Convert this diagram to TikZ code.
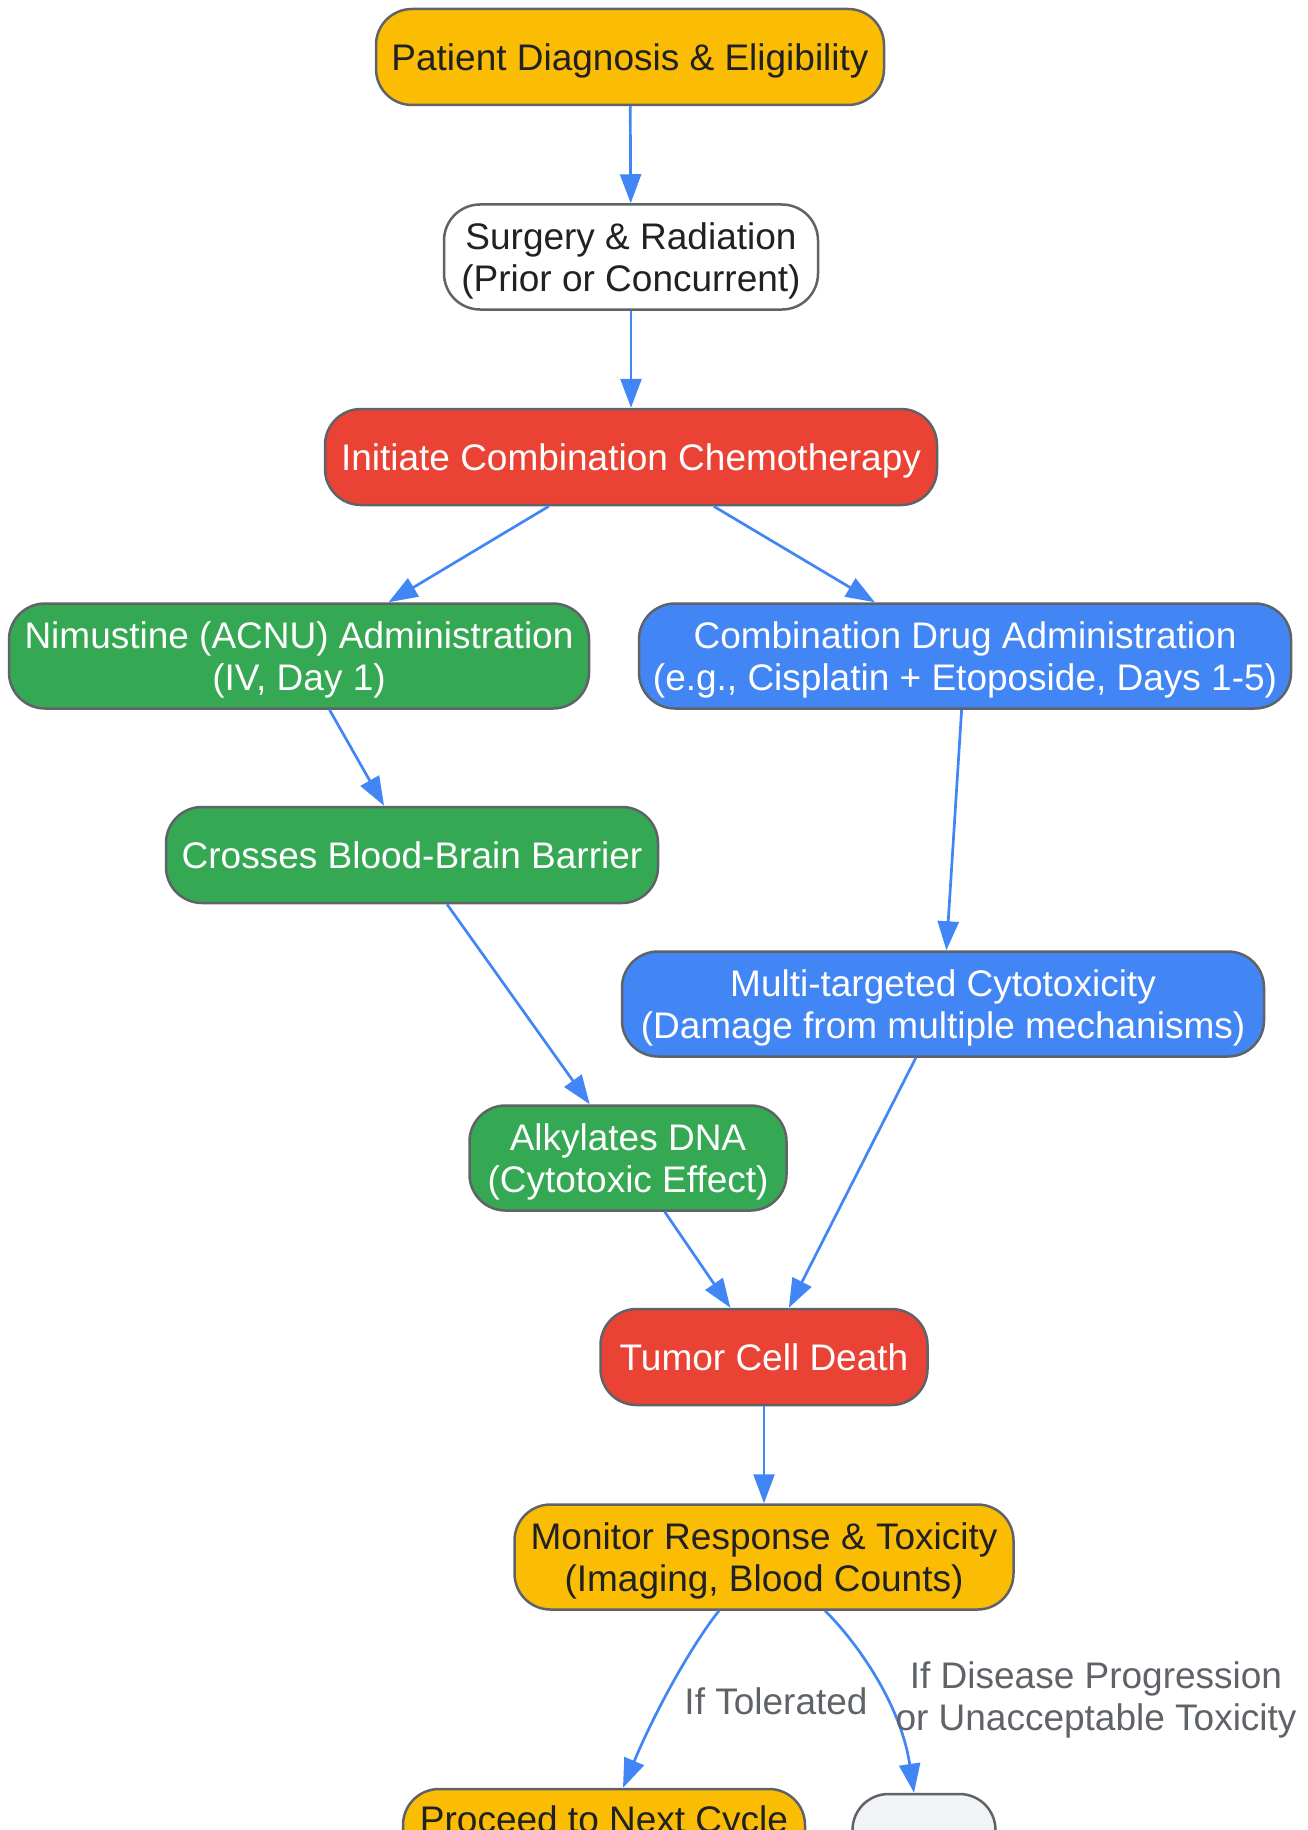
\documentclass[tikz,border=0pt]{standalone}
\usepackage{fontspec}
\setmainfont{Liberation Sans}
\usetikzlibrary{arrows.meta}
\definecolor{gyellow}{HTML}{FBBC04}
\definecolor{gred}{HTML}{EA4335}
\definecolor{ggreen}{HTML}{34A853}
\definecolor{gblue}{HTML}{4285F4}
\definecolor{glight}{HTML}{F1F3F4}
\definecolor{gborder}{HTML}{5F6368}
\definecolor{gtext}{HTML}{202124}
\begin{document}
\begin{tikzpicture}[x=1pt,y=-1pt,
  box/.style={draw=gborder, line width=2.5pt, rounded corners=36pt, align=center, inner sep=0pt, text depth=-1.5pt, font=\fontsize{37}{42}\selectfont},
  dark/.style={box, text=gtext},
  light/.style={box, text=white},
  edge/.style={draw=gblue, line width=2.7pt, -{Triangle[length=29pt,width=21pt]}},
  lbl/.style={text=gborder, align=center, font=\fontsize{37}{42}\selectfont, inner sep=0pt}]
\useasboundingbox (0,0) rectangle (1308,1830);
\clip (0,0) rectangle (1308,1830);
\node[dark, fill=gyellow, minimum width=508pt, minimum height=96pt] (n1) at (630,57) {Patient Diagnosis \& Eligibility};
\node[dark, fill=white, minimum width=374pt, minimum height=105pt] (n2) at (631,257) {Surgery \& Radiation\\(Prior or Concurrent)};
\node[light, fill=gred, minimum width=612pt, minimum height=96pt] (n3) at (631,457) {Initiate Combination Chemotherapy};
\node[light, fill=ggreen, minimum width=580pt, minimum height=105pt] (n4) at (299,656) {Nimustine (ACNU) Administration\\(IV, Day 1)};
\node[light, fill=gblue, minimum width=652pt, minimum height=105pt] (n5) at (965,656) {Combination Drug Administration\\(e.g., Cisplatin + Etoposide, Days 1-5)};
\node[light, fill=ggreen, minimum width=492pt, minimum height=96pt] (n6) at (412,855) {Crosses Blood-Brain Barrier};
\node[light, fill=gblue, minimum width=642pt, minimum height=105pt] (n7) at (943,1004) {Multi-targeted Cytotoxicity\\(Damage from multiple mechanisms)};
\node[light, fill=ggreen, minimum width=317pt, minimum height=105pt] (n8) at (628,1158) {Alkylates DNA\\(Cytotoxic Effect)};
\node[light, fill=gred, minimum width=327pt, minimum height=96pt] (n9) at (764,1357) {Tumor Cell Death};
\node[dark, fill=gyellow, minimum width=499pt, minimum height=105pt] (n10) at (764,1557) {Monitor Response \& Toxicity\\(Imaging, Blood Counts)};
\node[dark, fill=gyellow, minimum width=402pt, minimum height=96pt, text depth=36.6pt] (n11) at (604,1837) {Proceed to Next Cycle};
\node[dark, fill=glight, minimum width=143pt, minimum height=96pt] (n12) at (924,1842) {};
\draw[edge] (n1) -- (n2);
\draw[edge] (n2) -- (n3);
\draw[edge] (n3) -- (n4);
\draw[edge] (n3) -- (n5);
\draw[edge] (n4) -- (n6);
\draw[edge] (n5) -- (n7);
\draw[edge] (n6) -- (n8);
\draw[edge] (n7) -- (n9);
\draw[edge] (n8) -- (n9);
\draw[edge] (n9) -- (n10);
\draw[edge] (n10.south -| 719,0) .. controls (697,1638) and (660,1700) .. (n11.north -| 623,0);
\draw[edge] (n10.south -| 825,0) .. controls (852,1637) and (900,1700) .. (n12.north -| 914,0);
\node[lbl] (l1) at (776,1701) {If Tolerated};
\node[lbl] (l2) at (1096,1700) {If Disease Progression\\or Unacceptable Toxicity};
\end{tikzpicture}
\end{document}
